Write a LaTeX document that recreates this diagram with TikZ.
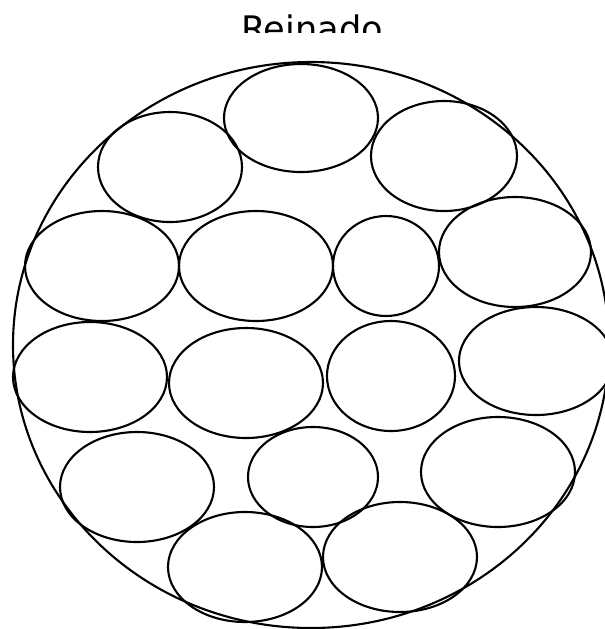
\documentclass[tikz,border=0pt]{standalone}
\usepackage{fontspec}
\setmainfont{DejaVu Sans}
\tikzset{
    lab/.style={
        font=\fontsize{10}{12}\selectfont
    },
    blob/.style={
        line width=0.6pt
    }
}
\begin{document}
\begin{tikzpicture}[x=0.01cm,y=-0.01cm,line cap=round,line join=round]

% --- frame (same size as the reference) ---
    \useasboundingbox (0,0) rectangle (605,629);

% title (lower part hidden)
    \begin{scope}
        \clip (0,0) rectangle (605,32);
        \node[lab, anchor=base] (title) at (312,41) {Reinado};
    \end{scope}

    \clip (0,0) rectangle (605,629);

% --- geometry (tuned to match the reference) ---
    \coordinate (K) at (311,345);   % kingdom centre

% kingdom (big outline)
    \draw[blob] (K) ellipse [x radius=298, y radius=283];

% top row
    \draw[blob] (170,167) ellipse [x radius=72, y radius=55];
    \draw[blob] (301,118) ellipse [x radius=77, y radius=54];
    \draw[blob] (444,156) ellipse [x radius=73, y radius=55];

% second row
    \draw[blob] (102,266) ellipse [x radius=77, y radius=55];
    \draw[blob] (256,266) ellipse [x radius=77, y radius=55];
    \draw[blob] (386,266) ellipse [x radius=53, y radius=50];
    \draw[blob] (515,252) ellipse [x radius=76, y radius=55];

% third row
    \draw[blob] (90,377)  ellipse [x radius=77, y radius=55];
    \draw[blob] (246,383) ellipse [x radius=77, y radius=55];
    \draw[blob] (391,376) ellipse [x radius=64, y radius=55];
    \draw[blob] (536,361) ellipse [x radius=77, y radius=54];

% fourth row
    \draw[blob] (137,487) ellipse [x radius=77, y radius=55];
    \draw[blob] (313,477) ellipse [x radius=65, y radius=50];
    \draw[blob] (498,472) ellipse [x radius=77, y radius=55];

% bottom row
    \draw[blob] (245,567) ellipse [x radius=77, y radius=55];
    \draw[blob] (400,557) ellipse [x radius=77, y radius=55];

\end{tikzpicture}
\end{document}
